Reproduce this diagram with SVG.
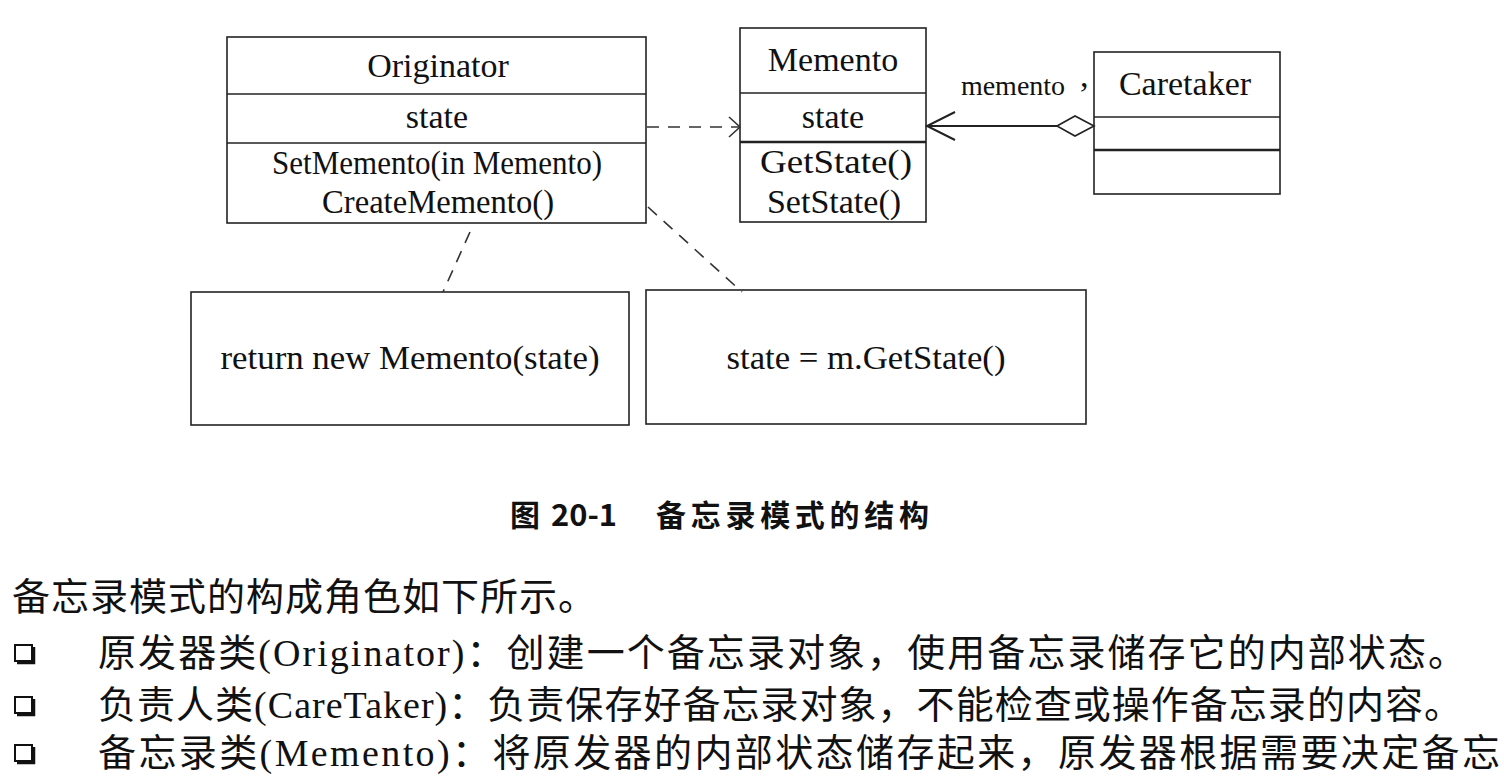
<svg xmlns="http://www.w3.org/2000/svg" width="1504" height="783" viewBox="0 0 1504 783">
<style>
.box{fill:#fff;stroke:#222;stroke-width:1.6}
.div{stroke:#222;stroke-width:1.6}
.thick{stroke:#222;stroke-width:2.6}
.t{font-family:"Liberation Serif","Times New Roman",serif;font-size:34px;fill:#111;text-anchor:middle}
.dash{fill:none;stroke:#333;stroke-width:1.6;stroke-dasharray:12 9}
.solid{fill:none;stroke:#222;stroke-width:2}
.cap{font-family:"Noto Sans CJK SC","Noto Sans",sans-serif;font-weight:bold;font-size:30px;fill:#111}
.body{font-family:"Liberation Serif","Noto Sans CJK SC",serif;font-size:38px;fill:#111}
.bul{fill:#fff;stroke:#111;stroke-width:2}
</style>
<defs>
<marker id="open" markerUnits="userSpaceOnUse" markerWidth="16" markerHeight="24" refX="13" refY="12" orient="auto">
<path d="M2,2 L13,12 L2,22" fill="none" stroke="#333" stroke-width="1.6"/>
</marker>
<marker id="openBig" markerUnits="userSpaceOnUse" markerWidth="34" markerHeight="34" refX="31" refY="17" orient="auto">
<path d="M3,3 L31,17 L3,31" fill="none" stroke="#222" stroke-width="2"/>
</marker>
</defs>

<g id="originator">
<rect class="box" x="227" y="37" width="419" height="186"/>
<line class="div" x1="227" y1="94" x2="646" y2="94"/>
<line class="div" x1="227" y1="143" x2="646" y2="143"/>
<text class="t" x="438" y="77">Originator</text>
<text class="t" x="437" y="128">state</text>
<text class="t" x="437" y="174" textLength="330" lengthAdjust="spacingAndGlyphs">SetMemento(in Memento)</text>
<text class="t" x="438" y="213" textLength="232" lengthAdjust="spacingAndGlyphs">CreateMemento()</text>
</g>

<g id="memento">
<rect class="box" x="740" y="28" width="186" height="194"/>
<line class="div" x1="740" y1="93" x2="926" y2="93"/>
<line class="thick" x1="740" y1="142" x2="926" y2="142"/>
<text class="t" x="833" y="71">Memento</text>
<text class="t" x="833" y="128">state</text>
<text class="t" x="836" y="173" textLength="152" lengthAdjust="spacingAndGlyphs">GetState()</text>
<text class="t" x="834" y="213">SetState()</text>
</g>

<g id="caretaker">
<rect class="box" x="1094" y="52" width="186" height="142"/>
<line class="div" x1="1094" y1="117" x2="1280" y2="117"/>
<line class="thick" x1="1094" y1="150" x2="1280" y2="150"/>
<text class="t" x="1185" y="95">Caretaker</text>
</g>

<g id="create-note">
<rect class="box" x="191" y="292" width="438" height="133"/>
<text class="t" x="410" y="369" textLength="379" lengthAdjust="spacingAndGlyphs">return new Memento(state)</text>
</g>

<g id="set-note">
<rect class="box" x="646" y="290" width="440" height="134"/>
<text class="t" x="866" y="369" textLength="279" lengthAdjust="spacingAndGlyphs">state = m.GetState()</text>
</g>

<g id="connectors">
<line class="dash" x1="647" y1="127" x2="740" y2="127" marker-end="url(#open)"/>
<line class="solid" x1="1057" y1="126" x2="927" y2="126" marker-end="url(#openBig)"/>
<polygon points="1057,126 1075,116 1094,126 1075,136" fill="#fff" stroke="#222" stroke-width="1.6"/>
<line class="dash" x1="470" y1="232" x2="443" y2="292"/>
<line class="dash" x1="648" y1="207" x2="742" y2="292"/>
<text x="1013" y="95" style="font-family:'Liberation Serif',serif;font-size:28px;fill:#111;text-anchor:middle">memento</text>
<text x="1080" y="87" style="font-family:'Liberation Serif',serif;font-size:34px;fill:#111">,</text>
</g>

<g id="caption">
<text class="cap" x="510" y="526">图</text>
<text class="cap" x="551" y="526" textLength="66" lengthAdjust="spacingAndGlyphs">20-1</text>
<text class="cap" x="656" y="526" textLength="273" lengthAdjust="spacing">备忘录模式的结构</text>
</g>

<g id="body">
<text class="body" x="12" y="610" textLength="584" lengthAdjust="spacing">备忘录模式的构成角色如下所示。</text>
<rect class="bul" x="15" y="645" width="17" height="16"/>
<path d="M34,647 V663 H17" fill="none" stroke="#111" stroke-width="2.5"/>
<text class="body" x="98" y="666" textLength="1368" lengthAdjust="spacing">原发器类(Originator)：创建一个备忘录对象，使用备忘录储存它的内部状态。</text>
<rect class="bul" x="15" y="697" width="17" height="16"/>
<path d="M34,699 V715 H17" fill="none" stroke="#111" stroke-width="2.5"/>
<text class="body" x="98" y="718" textLength="1364" lengthAdjust="spacing">负责人类(CareTaker)：负责保存好备忘录对象，不能检查或操作备忘录的内容。</text>
<rect class="bul" x="15" y="745" width="17" height="16"/>
<path d="M34,747 V763 H17" fill="none" stroke="#111" stroke-width="2.5"/>
<text class="body" x="98" y="766" textLength="1402" lengthAdjust="spacing">备忘录类(Memento)：将原发器的内部状态储存起来，原发器根据需要决定备忘</text>
</g>
</svg>
